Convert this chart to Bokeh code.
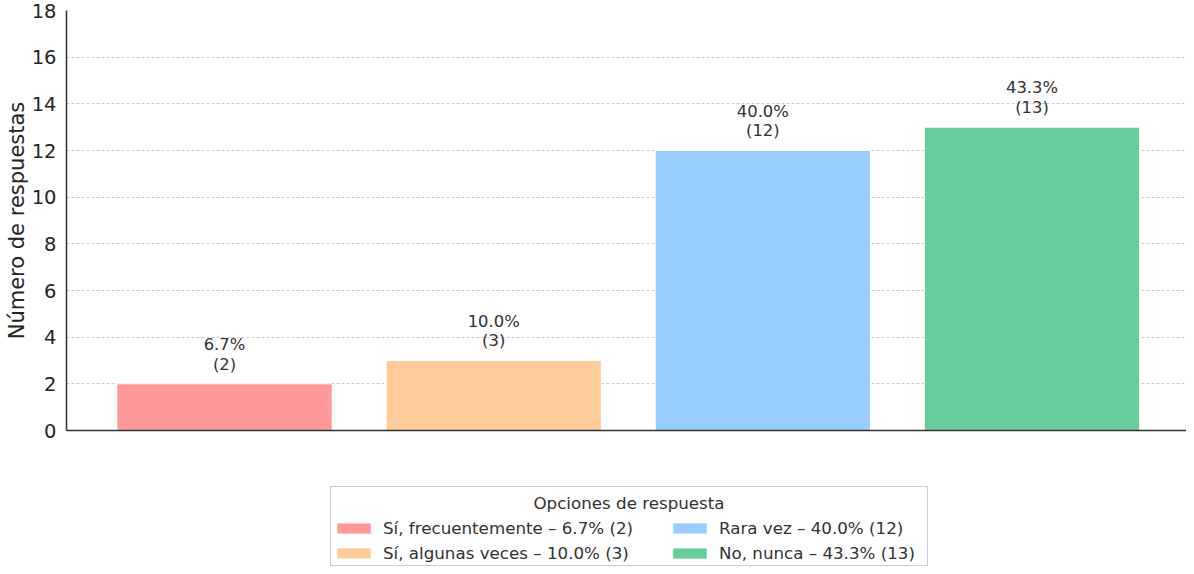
from bokeh.plotting import figure
from bokeh.models import Range1d, Legend, LegendItem, ColumnDataSource, FixedTicker, Label
from bokeh.core.properties import value
from bokeh.embed import file_html
from bokeh.resources import INLINE

categories = ["Sí, frecuentemente", "Sí, algunas veces", "Rara vez", "No, nunca"]
counts = [2, 3, 12, 13]
percents = [6.7, 10.0, 40.0, 43.3]
colors = ["#FF9999", "#FFCC99", "#99CCFF", "#66CC99"]
y_ticks = [0, 2, 4, 6, 8, 10, 12, 14, 16, 18]
y_title = "Número de respuestas"
legend_title = "Opciones de respuesta"

FONT = "DejaVu Sans"
TXT = "#333333"
positions = list(range(len(categories)))
bar_labels = [f"{p:.1f}%\n({c})" for p, c in zip(percents, counts)]
legend_labels = [f"{cat} – {p:.1f}% ({c})" for cat, p, c in zip(categories, percents, counts)]

source = ColumnDataSource(dict(x=positions, top=counts, color=colors, label=bar_labels))

# ---------------- main chart ----------------
p = figure(width=1186, height=442, output_backend="svg", toolbar_location=None,
           x_range=Range1d(-0.587, 3.574), y_range=Range1d(0, 18),
           min_border_top=10, min_border_right=0, min_border_left=66, min_border_bottom=12)
p.outline_line_color = None

bars = p.vbar(x="x", top="top", width=0.8, source=source, fill_color="color",
              line_color="white", line_width=1)
p.text(x="x", y="top", text="label", source=source, y_offset=-10,
       text_align="center", text_baseline="bottom", text_font=value(FONT),
       text_font_size="16.4px", text_color=TXT, text_line_height=1.05)

p.yaxis.ticker = FixedTicker(ticks=y_ticks)
p.yaxis.axis_label = y_title
p.yaxis.axis_label_text_font = FONT
p.yaxis.axis_label_text_font_size = "21px"
p.yaxis.axis_label_text_font_style = "normal"
p.yaxis.axis_label_text_color = "#262626"
p.yaxis.axis_label_standoff = 0
p.yaxis.major_label_text_font = FONT
p.yaxis.major_label_text_font_size = "19.5px"
p.yaxis.major_label_text_color = "#262626"
p.yaxis.major_label_standoff = 10
p.yaxis.major_tick_out = 0
p.yaxis.major_tick_in = 0
p.yaxis.minor_tick_line_color = None
p.yaxis.axis_line_color = "#333333"
p.yaxis.axis_line_width = 1.5

p.xaxis.ticker = FixedTicker(ticks=[])
p.xaxis.major_tick_line_color = None
p.xaxis.minor_tick_line_color = None
p.xaxis.axis_line_color = "#333333"
p.xaxis.axis_line_width = 1.5

p.xgrid.grid_line_color = None
p.ygrid.grid_line_color = "#cccccc"
p.ygrid.grid_line_dash = "3 2"
p.ygrid.grid_line_width = 1

# ---------------- legend panel ----------------
p2 = figure(width=1186, height=124, output_backend="svg", toolbar_location=None,
            x_range=Range1d(0, 1), y_range=Range1d(0, 1),
            x_axis_location=None, y_axis_location=None,
            min_border_left=330, min_border_right=259, min_border_top=44, min_border_bottom=1)
p2.grid.visible = False
p2.outline_line_color = "#cccccc"
p2.outline_line_width = 1

key = p2.vbar(x="x", top="top", width=0.8, source=source, fill_color="color",
              line_color="white", line_width=1, visible=False)

p2.add_layout(Label(x=0.5, y=0.785, text=legend_title, text_align="center",
                    text_baseline="middle", text_font=FONT, text_font_size="16.7px",
                    text_color=TXT))

def make_legend(idx, loc):
    items = [LegendItem(label=legend_labels[i], renderers=[key], index=i) for i in idx]
    return Legend(items=items, location=loc, orientation="vertical",
                  label_text_font=FONT, label_text_font_size="16.7px", label_text_color=TXT,
                  glyph_width=43, glyph_height=14, label_standoff=8, spacing=5,
                  border_line_color=None, background_fill_alpha=0,
                  inactive_fill_alpha=0, padding=0, margin=0)

p2.add_layout(make_legend([0, 1], (2, 2)))
p2.add_layout(make_legend([2, 3], (338, 2)))

open("out.html", "w").write(file_html([p, p2], INLINE))
